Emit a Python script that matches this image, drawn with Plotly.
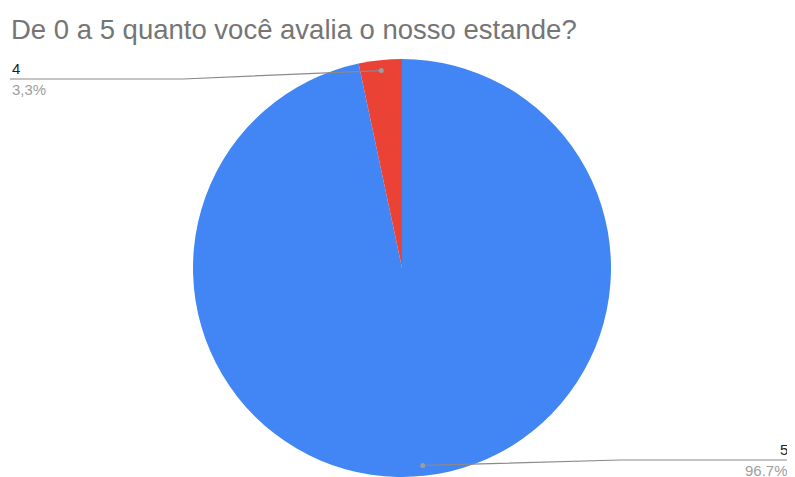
import math
import plotly.graph_objects as go

title = "De 0 a 5 quanto você avalia o nosso estande?"
labels = ["5", "4"]
values = [29, 1]
pct_text = ["96.7%", "3,3%"]
colors = ["#4285F4", "#EA4335"]

OFF = 8  # page body margin offset
W, H = 795 - OFF, 477 - OFF


def px(x):
    return (x - OFF) / W


def py(y):
    return 1 - (y - OFF) / H


dom_x = [px(192), px(612)]
dom_y = [0.0, py(59)]

fig = go.Figure(go.Pie(
    labels=labels, values=values, sort=False, direction="clockwise", rotation=0,
    marker=dict(colors=colors, line=dict(width=0)),
    textinfo="none", hoverinfo="label+percent", showlegend=False,
    domain=dict(x=dom_x, y=dom_y),
))

# pie geometry in reference pixels (derived from domain)
cx = (dom_x[0] + dom_x[1]) / 2 * W + OFF
cy = (1 - (dom_y[0] + dom_y[1]) / 2) * H + OFF
r = min((dom_x[1] - dom_x[0]) * W, (dom_y[1] - dom_y[0]) * H) / 2

total = sum(values)
cum = 0
layouts = {
    "5": dict(ly=460, ex=620, endx=790, side="right"),
    "4": dict(ly=79, ex=183, endx=10, side="left"),
}
shapes = []
annotations = []
for lab, v, pt in zip(labels, values, pct_text):
    mid = (cum + v / 2) / total * 2 * math.pi
    cum += v
    dx = cx + 0.95 * r * math.sin(mid)
    dy = cy - 0.95 * r * math.cos(mid)
    L = layouts[lab]
    path = f"M {px(dx)} {py(dy)} L {px(L['ex'])} {py(L['ly'])} L {px(L['endx'])} {py(L['ly'])}"
    shapes.append(dict(type="path", path=path, xref="paper", yref="paper",
                       line=dict(color="#8a8a8a", width=1.2)))
    shapes.append(dict(type="circle", xref="paper", yref="paper",
                       x0=px(dx - 2.5), x1=px(dx + 2.5), y0=py(dy + 2.5), y1=py(dy - 2.5),
                       fillcolor="#9e9e9e", line=dict(width=0)))
    anchor = "right" if L["side"] == "right" else "left"
    annotations.append(dict(text=lab, x=px(L["endx"]), y=py(L["ly"]), xref="paper", yref="paper",
                            xanchor=anchor, yanchor="bottom", showarrow=False,
                            font=dict(family="Liberation Sans, Arial", size=15, color="#222222")))
    annotations.append(dict(text=pt, x=px(L["endx"]), y=py(L["ly"]), xref="paper", yref="paper",
                            xanchor=anchor, yanchor="top", showarrow=False,
                            font=dict(family="Liberation Sans, Arial", size=15, color="#9e9e9e")))

annotations.append(dict(text=title, x=px(9), y=py(29), xref="paper", yref="paper",
                        xanchor="left", yanchor="middle", showarrow=False,
                        font=dict(family="Liberation Sans, Arial", size=27.5, color="#757575")))

fig.update_layout(width=W, height=H, margin=dict(l=0, r=0, t=0, b=0),
                  paper_bgcolor="white", plot_bgcolor="white",
                  shapes=shapes, annotations=annotations)
fig.write_html("out.html")
